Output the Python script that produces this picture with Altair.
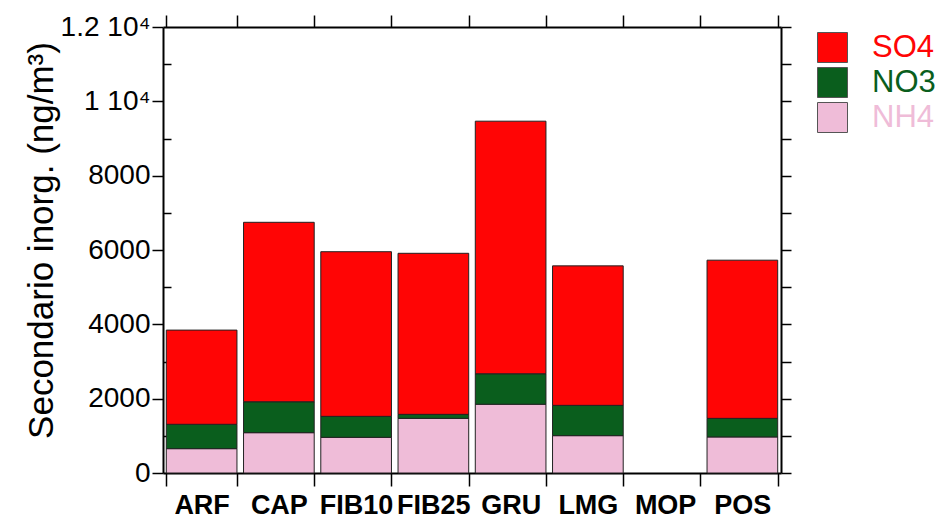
import altair as alt
import pandas as pd

# Secondary inorganic aerosol per site (ng/m3)
sites = ["ARF", "CAP", "FIB10", "FIB25", "GRU", "LMG", "MOP", "POS"]
nh4 = [655, 1085, 960, 1470, 1850, 1005, None, 970]
no3 = [655, 832, 564, 108, 820, 815, None, 500]
so4 = [2535, 4828, 4430, 4333, 6796, 3753, None, 4256]

species = ["SO4", "NO3", "NH4"]
colors = ["#ff0505", "#0a5e1d", "#efbcd8"]
stack_rank = {"NH4": 0, "NO3": 1, "SO4": 2}

rows = []
for i, s in enumerate(sites):
    for name, vals in (("NH4", nh4), ("NO3", no3), ("SO4", so4)):
        if vals[i] is not None:
            rows.append({"site": s, "species": name, "value": vals[i], "rank": stack_rank[name]})
df = pd.DataFrame(rows)

FONT = "Liberation Sans"

x_scale = alt.Scale(domain=sites, paddingInner=0.085, paddingOuter=0.0425)
y_scale = alt.Scale(domain=[0, 12000], nice=False)
y_ticks = list(range(0, 12001, 1000))

label_color = (
    "datum.label === 'SO4' ? '#ff0505' : "
    "datum.label === 'NO3' ? '#0a5e1d' : '#efbcd8'"
)

bars = alt.Chart(df).mark_bar(stroke="#222222", strokeWidth=1).encode(
    x=alt.X(
        "site:N",
        scale=x_scale,
        axis=alt.Axis(
            orient="bottom",
            title=None,
            tickBand="extent",
            tickSize=13,
            tickWidth=1.5,
            tickColor="black",
            domainColor="black",
            domainWidth=2,
            labelAngle=0,
            labelFont=FONT,
            labelFontWeight="bold",
            labelFontSize=27,
            labelColor="black",
            labelPadding=6,
        ),
    ),
    y=alt.Y(
        "value:Q",
        stack="zero",
        scale=y_scale,
        axis=alt.Axis(
            orient="left",
            values=y_ticks,
            labelExpr=(
                "datum.value % 2000 !== 0 ? '' : "
                "(datum.value >= 10000 ? (datum.value / 10000) + ' 10\u2074' : datum.value + '')"
            ),
            tickSize=alt.ExprRef("datum.value % 2000 === 0 ? 11 : -8"),
            tickWidth=1.5,
            tickColor="black",
            domainColor="black",
            domainWidth=2,
            labelFont=FONT,
            labelFontSize=28,
            labelColor="black",
            labelPadding=2,
            title="Secondario inorg. (ng/m\u00b3)",
            titleFont=FONT,
            titleFontSize=35,
            titleFontWeight="normal",
            titleColor="black",
            titleAngle=-90,
            titleAlign="center",
            titleBaseline="alphabetic",
            titleX=-111,
            titleY=213,
        ),
    ),
    color=alt.Color(
        "species:N",
        scale=alt.Scale(domain=species, range=colors),
        legend=alt.Legend(
            title=None,
            orient="none",
            legendX=654,
            legendY=5,
            symbolType="square",
            symbolSize=900,
            symbolStrokeColor="#555555",
            symbolStrokeWidth=1,
            symbolOpacity=1,
            labelFont=FONT,
            labelFontSize=31,
            labelOffset=24,
            labelColor=alt.ExprRef(label_color),
            rowPadding=0,
            padding=0,
        ),
    ),
    order=alt.Order("rank:Q", sort="ascending"),
)

# Frame: top and right axes sharing the same scales
frame = alt.Chart(df).mark_bar(opacity=0).encode(
    x=alt.X(
        "site:N",
        scale=x_scale,
        axis=alt.Axis(
            orient="top",
            title=None,
            labels=False,
            tickBand="extent",
            tickSize=12,
            tickWidth=1.5,
            tickColor="black",
            domainColor="black",
            domainWidth=2,
        ),
    ),
    y=alt.Y(
        "value:Q",
        stack="zero",
        scale=y_scale,
        axis=alt.Axis(
            orient="right",
            title=None,
            labels=False,
            values=y_ticks,
            tickSize=10,
            tickWidth=1.5,
            tickColor="black",
            domainColor="black",
            domainWidth=2,
        ),
    ),
)

chart = (
    alt.layer(bars, frame)
    .resolve_axis(x="independent", y="independent")
    .properties(
        width=618,
        height=446,
        padding={"left": 163, "top": 27, "right": 162, "bottom": 50},
        autosize=alt.AutoSizeParams(type="none"),
        background="white",
    )
    .configure_view(stroke=None)
    .configure_axis(grid=False)
)

chart.save("out.html", embed_options={"renderer": "svg", "actions": False})
